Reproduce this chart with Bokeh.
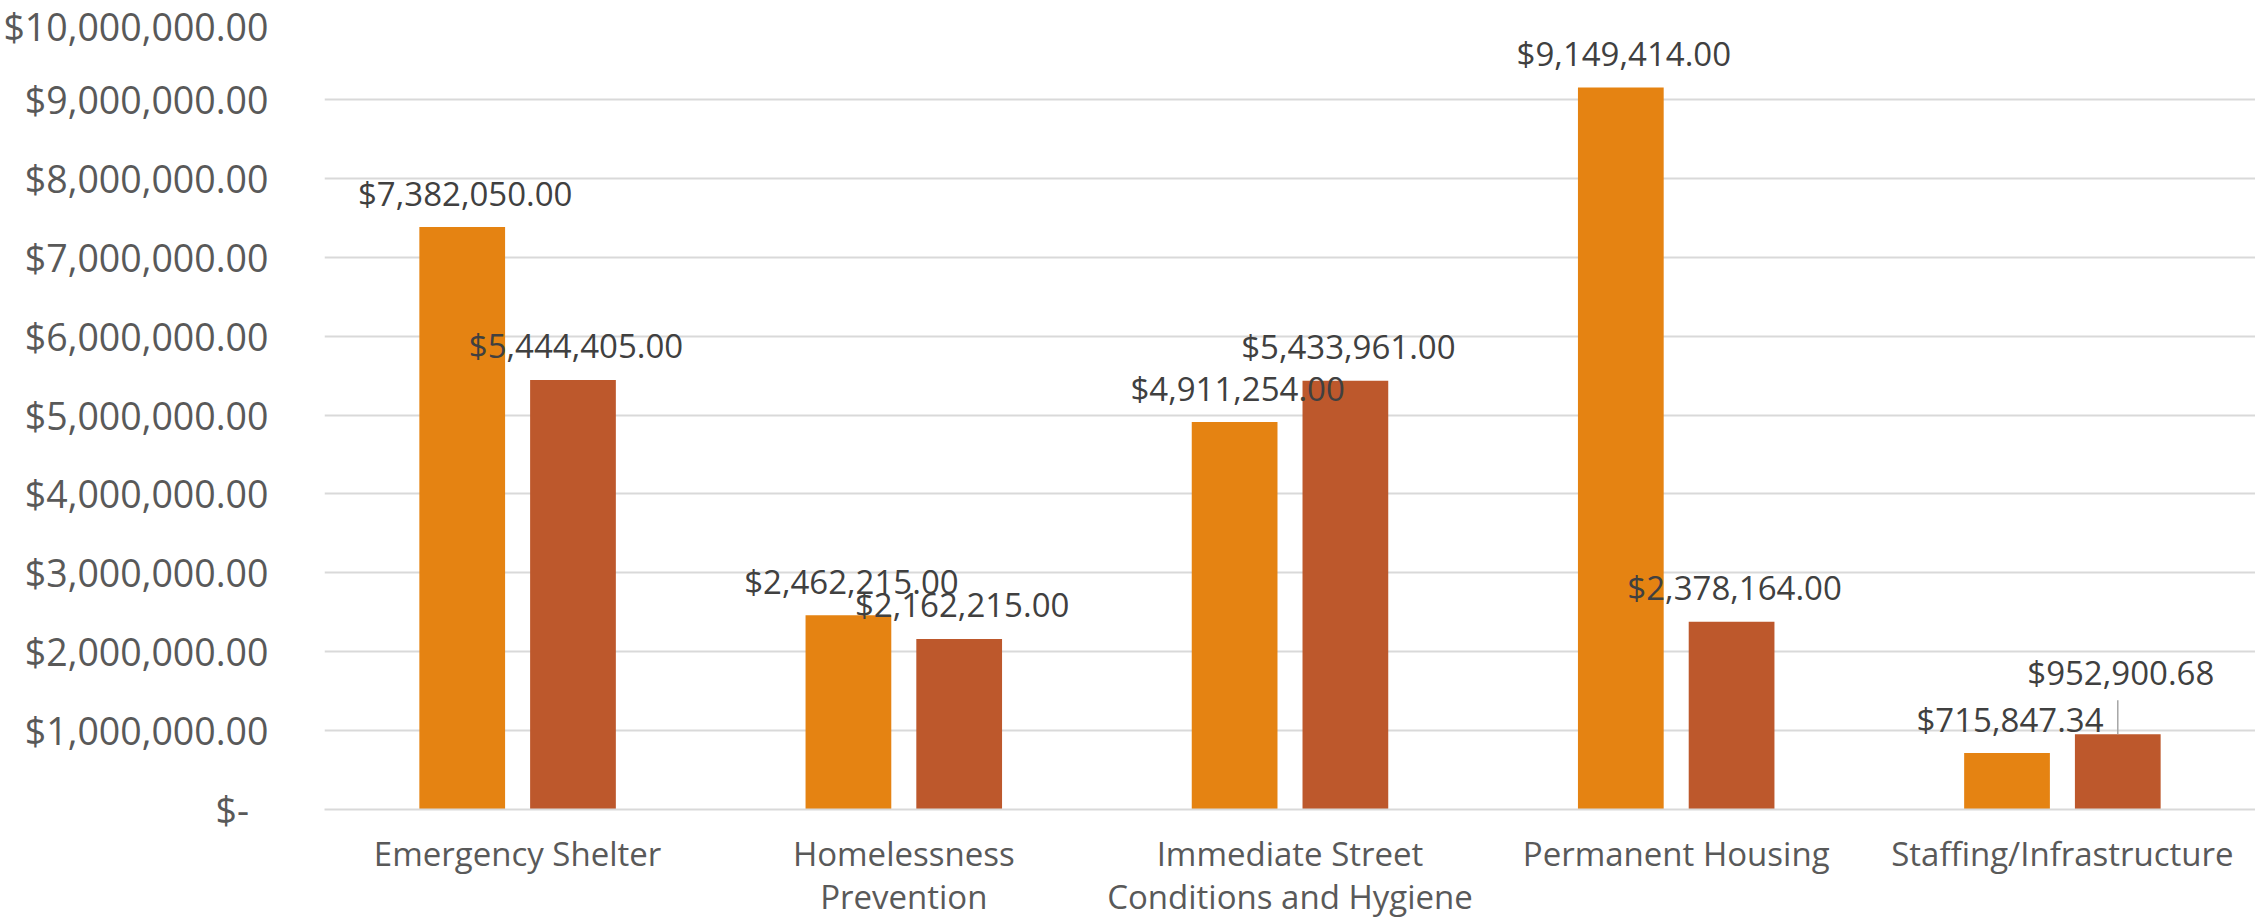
from bokeh.plotting import figure
from bokeh.models import ColumnDataSource, Range1d, FixedTicker, FactorRange
from bokeh.transform import dodge
from bokeh.embed import file_html
from bokeh.resources import INLINE
from bokeh.core.properties import value

# ---- data ----
categories = [
    "Emergency Shelter",
    "Homelessness\nPrevention",
    "Immediate Street\nConditions and Hygiene",
    "Permanent Housing",
    "Staffing/Infrastructure",
]
series_a = [7382050.00, 2462215.00, 4911254.00, 9149414.00, 715847.34]
series_b = [5444405.00, 2162215.00, 5433961.00, 2378164.00, 952900.68]
y_ticks = [0, 1000000, 2000000, 3000000, 4000000, 5000000,
           6000000, 7000000, 8000000, 9000000, 10000000]

# extra nudge (screen px, negative = up) for the manually moved data label
label_dy_a = [0, 0, 0, 0, 0]
label_dy_b = [0, 0, 0, 0, -28]

COLOR_A = "#E58312"
COLOR_B = "#BD582C"
FONT = "Open Sans"

def money(v):
    return "${:,.2f}".format(v)

BASE_DY = -34
src = ColumnDataSource(dict(
    cat=categories,
    a=series_a,
    b=series_b,
    la=[money(v) for v in series_a],
    lb=[money(v) for v in series_b],
    dya=[BASE_DY + d for d in label_dy_a],
    dyb=[BASE_DY + d for d in label_dy_b],
))

W, H = 2255, 922
TOP, BOTTOM, LEFT = 20, 113, 319
frame_h = H - TOP - BOTTOM

p = figure(
    x_range=FactorRange(factors=categories, range_padding=0, factor_padding=0),
    y_range=Range1d(0, 10000000),
    width=W, height=H,
    output_backend="svg", toolbar_location=None,
    min_border_left=LEFT, min_border_right=0,
    min_border_top=TOP, min_border_bottom=BOTTOM,
)
p.outline_line_color = None
p.background_fill_color = "white"
p.border_fill_color = "white"

OFF = 0.1434
BW = 0.222
p.vbar(x=dodge("cat", -OFF, range=p.x_range), top="a", width=BW, source=src,
       fill_color=COLOR_A, line_color=None)
p.vbar(x=dodge("cat", OFF, range=p.x_range), top="b", width=BW, source=src,
       fill_color=COLOR_B, line_color=None)

p.text(x=dodge("cat", -OFF, range=p.x_range), y="a", text="la", source=src,
       x_offset=3, y_offset="dya", text_align="center", text_baseline="middle",
       text_font=value(FONT), text_font_size="33px", text_color="#404040")
p.text(x=dodge("cat", OFF, range=p.x_range), y="b", text="lb", source=src,
       x_offset=3, y_offset="dyb", text_align="center", text_baseline="middle",
       text_font=value(FONT), text_font_size="33px", text_color="#404040")

# leader line for the displaced last label
units_per_px = 10000000 / frame_h
i = 4
p.segment(x0=[(categories[i], OFF)], y0=[series_b[i]],
          x1=[(categories[i], OFF)], y1=[series_b[i] + 34 * units_per_px],
          line_color="#A6A6A6", line_width=1.5)

# axes
p.yaxis.ticker = FixedTicker(ticks=y_ticks)
p.yaxis.major_label_overrides = {t: (money(t) if t else "$-\u00a0\u00a0") for t in y_ticks}
p.yaxis.axis_line_color = None
p.yaxis.major_tick_line_color = None
p.yaxis.minor_tick_line_color = None
p.yaxis.major_label_text_font = FONT
p.yaxis.major_label_text_font_size = "37.5px"
p.yaxis.major_label_text_color = "#595959"
p.yaxis.major_label_standoff = 50

p.xaxis.axis_line_color = "#D9D9D9"
p.xaxis.axis_line_width = 2
p.xaxis.major_tick_line_color = None
p.xaxis.minor_tick_line_color = None
p.xaxis.major_label_text_font = FONT
p.xaxis.major_label_text_font_size = "33px"
p.xaxis.major_label_text_color = "#595959"
p.xaxis.major_label_text_line_height = 0.97
p.xaxis.major_label_standoff = 15

p.xgrid.visible = False
p.ygrid.grid_line_color = "#D9D9D9"
p.ygrid.grid_line_width = 2

open("out.html", "w").write(file_html(p, INLINE))
